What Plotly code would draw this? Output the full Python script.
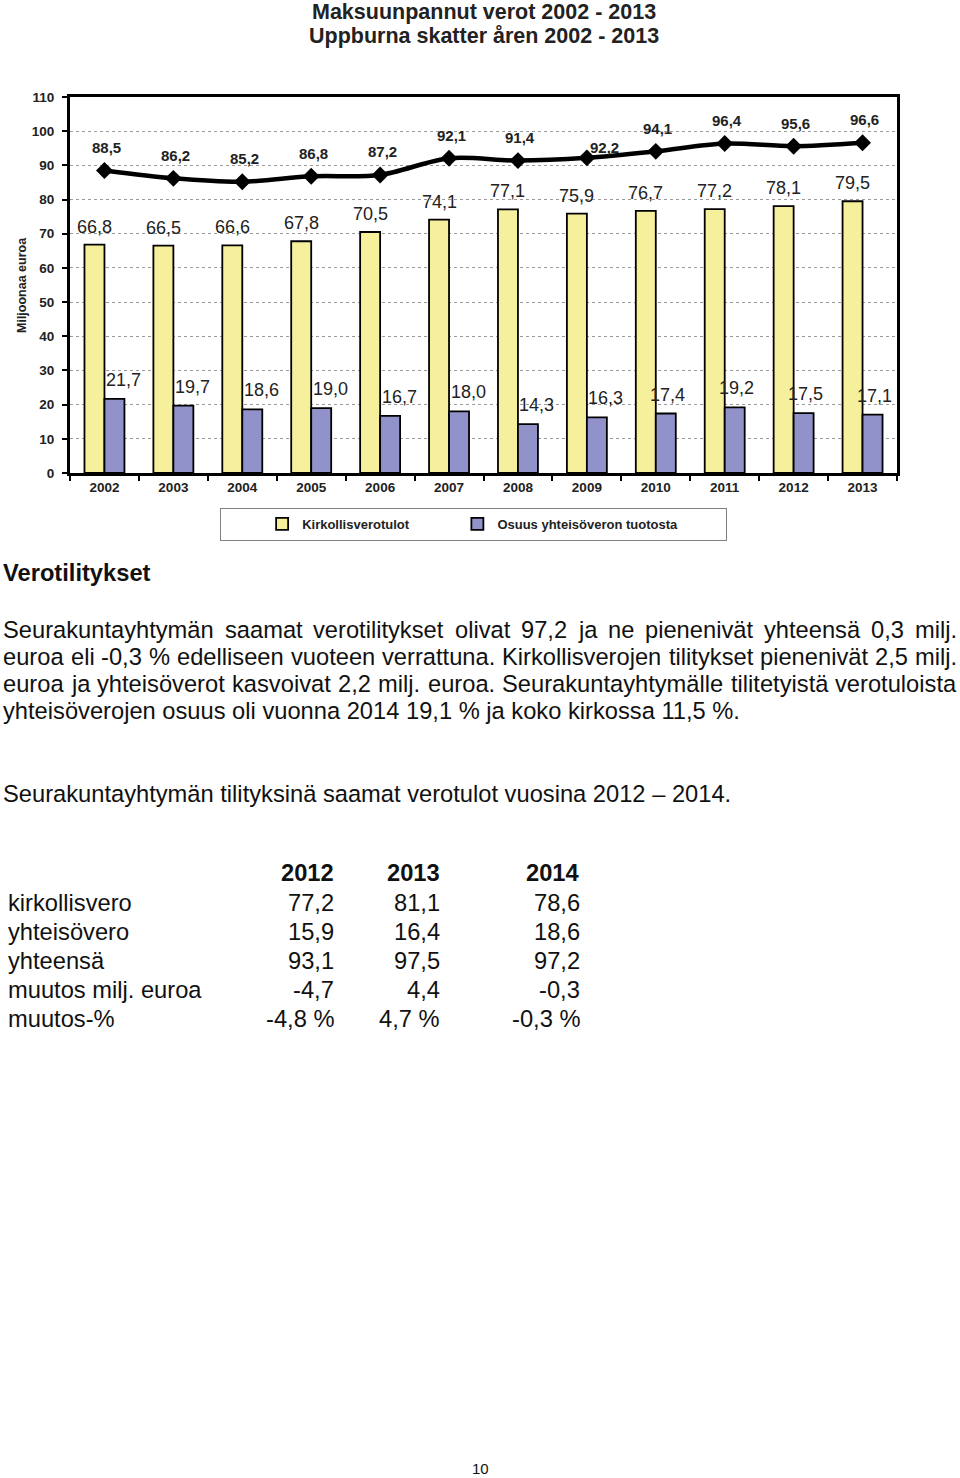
import plotly.graph_objects as go

# ---------------- data ----------------
years = ["2002", "2003", "2004", "2005", "2006", "2007",
         "2008", "2009", "2010", "2011", "2012", "2013"]
kirkollisverotulot = [66.8, 66.5, 66.6, 67.8, 70.5, 74.1, 77.1, 75.9, 76.7, 77.2, 78.1, 79.5]
yhteisovero_osuus = [21.7, 19.7, 18.6, 19.0, 16.7, 18.0, 14.3, 16.3, 17.4, 19.2, 17.5, 17.1]
yhteensa = [88.5, 86.2, 85.2, 86.8, 87.2, 92.1, 91.4, 92.2, 94.1, 96.4, 95.6, 96.6]

series_names = ["Kirkollisverotulot", "Osuus yhteisöveron tuotosta"]

title_lines = ["Maksuunpannut verot 2002 - 2013", "Uppburna skatter åren 2002 - 2013"]
y_title = "Miljoonaa euroa"

heading = "Verotilitykset"
paragraph_lines = [
    "Seurakuntayhtymän saamat verotilitykset olivat 97,2 ja ne pienenivät yhteensä 0,3 milj.",
    "euroa eli -0,3 % edelliseen vuoteen verrattuna. Kirkollisverojen tilitykset pienenivät 2,5 milj.",
    "euroa ja yhteisöverot kasvoivat 2,2 milj. euroa. Seurakuntayhtymälle tilitetyistä verotuloista",
    "yhteisöverojen osuus oli vuonna 2014 19,1 % ja koko kirkossa 11,5 %.",
]
table_title = "Seurakuntayhtymän tilityksinä saamat verotulot vuosina 2012 \u2013 2014."
table_years = ["2012", "2013", "2014"]
table_rows = ["kirkollisvero", "yhteisövero", "yhteensä", "muutos milj. euroa", "muutos-%"]
table_values = [
    ["77,2", "81,1", "78,6"],
    ["15,9", "16,4", "18,6"],
    ["93,1", "97,5", "97,2"],
    ["-4,7", "4,4", "-0,3"],
    ["-4,8 %", "4,7 %", "-0,3 %"],
]
page_number = "10"

# ---------------- styling / geometry ----------------
FONT = "Arial, Liberation Sans, sans-serif"
W, H = 960, 1478
PL, PR, PT, PB = 70, 897, 97, 473     # plot area in page pixels
YELLOW = "#F6F09C"
PURPLE = "#9292CA"
NB = "\u00a0"


def px(x):
    return (x - PL) / (PR - PL)


def py(y):
    return (PB - y) / (PB - PT)


fig = go.Figure()
fig.add_trace(go.Bar(x=years, y=kirkollisverotulot, name=series_names[0] + NB * 12,
                     marker=dict(color=YELLOW, line=dict(color="black", width=1.8))))
fig.add_trace(go.Bar(x=years, y=yhteisovero_osuus, name=series_names[1] + NB * 12,
                     marker=dict(color=PURPLE, line=dict(color="black", width=1.8))))
fig.add_trace(go.Scatter(x=years, y=yhteensa, mode="lines+markers", showlegend=False,
                         line=dict(color="black", width=4.5, shape="spline", smoothing=0.9),
                         marker=dict(symbol="diamond", size=13, color="black")))

ann = []


def fmt(v):
    return f"{v:.1f}".replace(".", ",")


# value labels (category axis: annotation x given as category index)
for i, v in enumerate(kirkollisverotulot):
    ann.append(dict(x=i, y=v, xref="x", yref="y", text=fmt(v), showarrow=False,
                    xshift=-10, yshift=18, font=dict(family=FONT, size=18, color="#222")))
for i, v in enumerate(yhteisovero_osuus):
    ann.append(dict(x=i, y=v, xref="x", yref="y", text=fmt(v), showarrow=False,
                    xshift=19 if i < 8 else 12, yshift=19,
                    font=dict(family=FONT, size=18, color="#222")))
for i, (yr, v) in enumerate(zip(years, yhteensa)):
    dx, dy = (18, 10) if yr == "2009" else (2, 23)
    ann.append(dict(x=i, y=v, xref="x", yref="y", text=fmt(v), showarrow=False,
                    xshift=dx, yshift=dy,
                    font=dict(family=FONT, size=15, color="#222", weight="bold")))

# titles
for t, yy in zip(title_lines, [12, 36]):
    ann.append(dict(x=px(484), y=py(yy), xref="paper", yref="paper", text=t, showarrow=False,
                    xanchor="center", yanchor="middle",
                    font=dict(family=FONT, size=21.5, color="#222", weight="bold")))
ann.append(dict(x=px(22), y=py(285), xref="paper", yref="paper", text=y_title, showarrow=False,
                textangle=-90, xanchor="center", yanchor="middle",
                font=dict(family=FONT, size=12.5, color="#222", weight="bold")))

# ---------------- text section ----------------
HELV = {" ": 278, "%": 889, ",": 278, "-": 333, ".": 278}
HELV.update({d: 556 for d in "0123456789"})
HELV.update(dict(zip("ABCDEFGHIJKLMNOPQRSTUVWXYZ",
                     [667, 667, 722, 722, 667, 611, 778, 722, 278, 500, 667, 556, 833,
                      722, 778, 667, 778, 722, 667, 611, 722, 667, 944, 667, 667, 611])))
HELV.update(dict(zip("abcdefghijklmnopqrstuvwxyz",
                     [556, 556, 500, 556, 556, 278, 556, 556, 222, 222, 500, 222, 833,
                      556, 556, 556, 556, 333, 500, 278, 556, 500, 722, 500, 500, 500])))
HELV.update({"ä": 556, "ö": 556, "å": 556})
FS = 23.7


def textw(s, size=FS):
    return sum(HELV.get(c, 556) for c in s) / 1000 * size


def text_ann(s, x, y, anchor="left", bold=False, size=FS):
    return dict(x=px(x), y=py(y), xref="paper", yref="paper", text=s, showarrow=False,
                xanchor=anchor, yanchor="middle", borderpad=0, borderwidth=0,
                font=dict(family=FONT, size=size, color="#111",
                          weight="bold" if bold else "normal"))


ann.append(text_ann(heading, 3, 573, bold=True))
LEFT, RIGHT = 3, 957
para_y = [630, 657, 684, 711]
for li, (line, yy) in enumerate(zip(paragraph_lines, para_y)):
    if li == len(paragraph_lines) - 1:
        ann.append(text_ann(line, LEFT, yy))
        continue
    words = line.split(" ")
    widths = [textw(w) for w in words]
    gap = (RIGHT - LEFT - sum(widths)) / (len(words) - 1)
    xcur = LEFT
    for wi, (w, ww) in enumerate(zip(words, widths)):
        if wi == len(words) - 1:
            ann.append(text_ann(w, RIGHT, yy, anchor="right"))
        else:
            ann.append(text_ann(w, xcur, yy))
        xcur += ww + gap

ann.append(text_ann(table_title, 3, 794))
col_right = [334, 440, 580]
row_y = [903, 932, 961, 990, 1019]
for cx, yr in zip(col_right, table_years):
    ann.append(text_ann(yr, cx, 873, anchor="right", bold=True))
for r, (label, vals) in enumerate(zip(table_rows, table_values)):
    ann.append(text_ann(label, 8, row_y[r]))
    for cx, v in zip(col_right, vals):
        ann.append(text_ann(v, cx, row_y[r], anchor="right"))
ann.append(text_ann(page_number, 480, 1468, anchor="center", size=15))

fig.update_layout(
    width=W, height=H,
    margin=dict(l=PL, r=W - PR, t=PT, b=H - PB, autoexpand=False),
    paper_bgcolor="white", plot_bgcolor="white",
    barmode="group", bargap=0.42, bargroupgap=0,
    showlegend=True,
    legend=dict(orientation="h", x=px(220), y=py(508), xanchor="left", yanchor="top",
                bordercolor="#808080", borderwidth=1, bgcolor="white",
                font=dict(family=FONT, size=13, color="#222", weight="bold"),
                title=dict(text=NB * 7, side="left"),
                traceorder="normal"),
    annotations=ann,
    font=dict(family=FONT, color="#222"),
)
fig.update_xaxes(type="category", range=[-0.5, len(years) - 0.5],
                 showline=True, linecolor="black", linewidth=3, mirror=True,
                 ticks="outside", tickson="boundaries", ticklen=5, tickwidth=1.5,
                 tickcolor="black", showgrid=False, tickangle=0,
                 tickfont=dict(family=FONT, size=13.5, color="#222", weight="bold"))
fig.update_yaxes(range=[0, 110], dtick=10, showline=True, linecolor="black", linewidth=3,
                 mirror=True, ticks="outside", ticklen=5, tickwidth=1.5, tickcolor="black",
                 showgrid=True, gridcolor="#9a9a9a", griddash="dot", gridwidth=1,
                 zeroline=False, ticklabelstandoff=5,
                 tickfont=dict(family=FONT, size=13.5, color="#222", weight="bold"))

fig.write_html("out.html")
